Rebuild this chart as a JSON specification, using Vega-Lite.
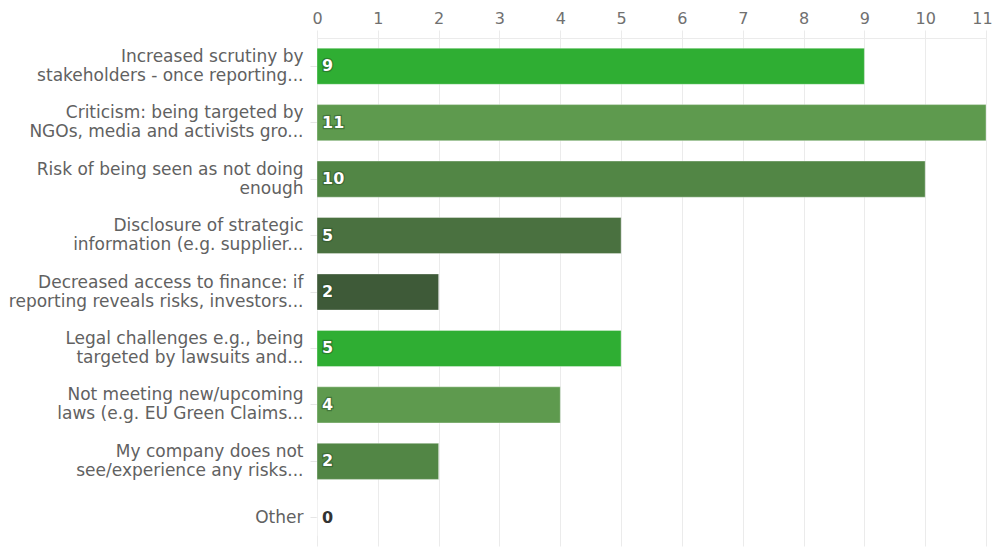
{
  "$schema": "https://vega.github.io/schema/vega-lite/v6.json",
  "width": 669,
  "height": 508,
  "autosize": "none",
  "padding": {"left": 317, "top": 38, "right": 7, "bottom": 1},
  "background": "white",
  "config": {"view": {"stroke": null}, "font": "DejaVu Sans"},
  "data": {"values": [
    {"risk": "Increased scrutiny by|stakeholders - once reporting...", "count": 9, "group": "a"},
    {"risk": "Criticism: being targeted by|NGOs, media and activists gro...", "count": 11, "group": "b"},
    {"risk": "Risk of being seen as not doing|enough", "count": 10, "group": "c"},
    {"risk": "Disclosure of strategic|information (e.g. supplier...", "count": 5, "group": "d"},
    {"risk": "Decreased access to finance: if|reporting reveals risks, investors...", "count": 2, "group": "e"},
    {"risk": "Legal challenges e.g., being|targeted by lawsuits and...", "count": 5, "group": "a"},
    {"risk": "Not meeting new/upcoming|laws (e.g. EU Green Claims...", "count": 4, "group": "b"},
    {"risk": "My company does not|see/experience any risks...", "count": 2, "group": "c"},
    {"risk": "Other", "count": 0, "group": "f"}
  ]},
  "encoding": {
    "y": {
      "field": "risk", "type": "nominal", "sort": null, "title": null,
      "scale": {"paddingInner": 0.36, "paddingOuter": 0.18},
      "axis": {
        "labelExpr": "split(datum.label, '|')",
        "labelOffset": {"condition": {"test": "indexof(datum.value, '|') >= 0", "value": -9.5}, "value": 0},
        "labelFontSize": 17, "labelColor": "#616161", "labelLineHeight": 19,
        "labelPadding": 7, "labelLimit": 330,
        "domain": false, "ticks": true, "tickSize": 7, "tickColor": "#e6e6e6"
      }
    }
  },
  "layer": [
    {
      "mark": {"type": "bar", "stroke": "#ffffff", "strokeOpacity": 0.35, "strokeWidth": 1},
      "encoding": {
        "x": {
          "field": "count", "type": "quantitative", "title": null,
          "scale": {"domain": [0, 11], "nice": false},
          "axis": {
            "orient": "top", "values": [0,1,2,3,4,5,6,7,8,9,10,11], "format": "d",
            "labelOverlap": false, "labelBound": false, "labelFlush": false,
            "labelOffset": {"condition": {"test": "datum.value == 11", "value": -4}, "value": 0},
            "grid": true, "gridColor": "#ebebeb",
            "domain": true, "domainColor": "#ebebeb",
            "ticks": true, "tickSize": 8, "tickColor": "#ebebeb",
            "labelFontSize": 16, "labelColor": "#707070", "labelPadding": 4
          }
        },
        "color": {
          "field": "group", "type": "nominal", "legend": null,
          "scale": {"domain": ["a", "b", "c", "d", "e", "f"],
                    "range": ["#2fae33", "#5e9a4e", "#528645", "#4a7140", "#3e5a38", "#3e5a38"]}
        }
      }
    },
    {
      "mark": {"type": "text", "align": "left", "dx": 5, "fontSize": 16, "fontWeight": "bold",
               "stroke": "#1f4a1f", "strokeWidth": 2.5, "strokeOpacity": 0.45, "baseline": "middle"},
      "transform": [{"filter": "datum.count > 0"}],
      "encoding": {
        "x": {"datum": 0, "type": "quantitative"},
        "text": {"field": "count", "type": "quantitative"}
      }
    },
    {
      "mark": {"type": "text", "align": "left", "dx": 5, "fontSize": 16, "fontWeight": "bold", "baseline": "middle"},
      "encoding": {
        "x": {"datum": 0, "type": "quantitative"},
        "text": {"field": "count", "type": "quantitative"},
        "color": {"condition": {"test": "datum.count > 0", "value": "#ffffff"}, "value": "#333333"}
      }
    }
  ]
}
